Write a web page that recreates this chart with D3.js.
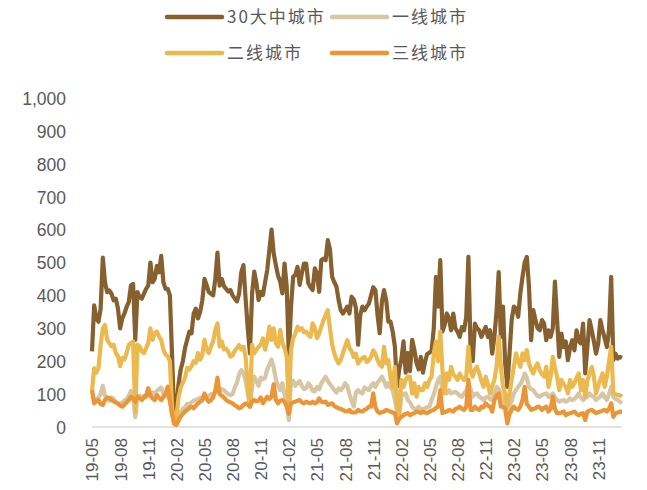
<!DOCTYPE html>
<html>
<head>
<meta charset="utf-8">
<script src="https://cdn.jsdelivr.net/npm/d3@7/dist/d3.min.js"></script>
<style>
  html, body { margin: 0; padding: 0; background: #fff; }
  svg { display: block; }
</style>
</head>
<body>
<svg id="chart" width="647" height="490"></svg>
<script>
// Weekly transaction series (one value per week, starting 2019-05)
const seriesNames = ["30大中城市", "一线城市", "二线城市", "三线城市"];
const seriesColors = ["#86602F", "#D6C6A4", "#ECB94F", "#EB9537"];

const city30 = [
  230,370,330,320,360,515,440,410,415,405,385,390,360,300,330,345,365,380,430,435,
  265,410,395,390,405,420,430,500,440,450,490,470,520,440,420,420,400,220,30,60,
  130,175,200,240,265,290,285,345,360,330,350,385,450,430,410,405,400,450,530,430,
  450,428,420,412,416,400,390,382,405,470,492,390,300,224,405,472,437,386,411,401,
  440,477,538,600,527,492,460,442,406,497,427,214,366,457,462,487,432,467,497,497,
  437,425,416,482,467,411,507,512,507,568,540,457,440,427,386,355,345,355,366,345,
  396,388,362,250,340,366,355,366,375,400,425,416,340,285,380,416,385,320,320,290,
  245,122,175,205,260,165,225,170,265,235,195,175,213,165,200,222,226,232,300,456,
  366,507,290,310,345,330,294,345,300,290,274,304,294,335,517,233,200,314,300,294,
  274,290,304,274,294,223,274,350,471,274,366,193,122,223,325,366,360,335,406,456,
  500,517,427,264,355,325,300,294,325,314,264,294,274,300,442,325,213,284,243,260,
  203,243,264,233,294,260,254,314,163,243,325,294,260,223,254,325,294,270,243,294,
  456,203,223,208,213,210
];

const city1 = [
  95,85,80,90,100,125,95,85,80,90,85,75,70,70,75,80,85,95,110,95,
  30,90,95,90,95,90,100,95,105,100,110,115,120,100,95,90,85,40,10,15,
  30,45,55,60,70,70,75,80,82,85,88,90,90,92,95,100,100,105,110,110,
  115,112,105,100,97,100,120,135,160,173,165,140,102,62,122,153,140,125,150,145,
  150,175,190,205,180,145,125,112,133,100,70,21,140,140,125,133,140,125,115,118,
  133,125,110,108,122,115,133,143,153,140,130,122,112,105,117,112,120,133,125,100,
  80,62,105,112,105,102,120,115,112,125,133,122,135,143,153,140,122,133,120,112,
  82,50,31,92,100,102,82,75,62,55,52,62,52,55,57,60,62,82,100,122,
  143,153,112,105,102,112,102,105,107,102,95,92,102,110,133,115,92,100,102,92,
  88,82,90,92,85,82,102,122,115,102,82,70,42,62,80,102,112,122,130,143,
  163,150,122,115,112,102,95,92,97,100,102,92,95,102,90,82,77,80,82,77,
  80,87,82,85,92,102,90,82,88,92,102,95,92,82,88,92,102,92,82,100,
  122,92,85,82,77,72
];

const city2 = [
  110,178,165,180,250,300,310,265,255,245,250,225,215,185,210,205,225,250,255,260,
  45,250,245,230,225,240,255,300,265,285,290,275,265,235,220,215,200,60,12,30,
  90,120,135,150,180,175,185,200,195,225,205,220,265,235,225,245,260,295,315,245,
  260,236,238,229,214,218,232,240,249,236,244,213,130,62,250,224,235,244,250,269,
  235,262,305,265,300,255,244,295,255,240,213,62,234,270,284,305,295,300,288,290,
  280,274,315,300,270,284,305,325,340,355,300,250,224,205,193,205,225,245,264,240,
  230,213,223,193,203,210,213,198,203,213,233,223,203,190,183,244,193,203,150,122,
  183,60,41,143,122,143,153,153,102,133,92,122,112,112,133,122,143,153,224,260,
  200,290,173,102,163,143,183,160,153,143,163,150,143,153,244,170,153,175,183,163,
  140,122,153,130,102,125,143,183,274,183,122,102,62,100,143,183,224,200,183,224,
  203,234,193,175,163,183,193,172,160,153,183,122,153,213,180,153,112,143,130,122,
  102,143,122,133,150,163,112,143,92,140,163,183,153,102,125,143,163,122,153,200,
  244,102,100,97,97,92
];

const city3 = [
  112,72,78,82,70,67,82,90,88,82,78,75,72,65,62,68,75,82,92,85,
  77,92,88,82,90,95,118,95,87,82,97,88,82,92,100,123,80,40,10,6,
  20,32,40,47,52,58,62,57,65,72,77,82,102,85,77,82,90,110,150,100,
  95,90,82,78,75,72,66,62,57,60,67,72,68,62,77,82,78,80,90,72,
  82,92,85,92,130,82,72,80,82,77,62,40,72,75,77,80,82,75,72,77,
  74,72,77,72,75,87,77,75,77,67,70,72,64,60,57,55,52,48,47,52,
  44,44,45,52,48,47,52,55,62,62,102,60,47,42,45,47,52,50,47,44,
  42,11,25,31,36,40,42,36,40,42,47,45,42,47,44,42,47,50,52,58,
  62,112,42,45,47,52,50,47,55,57,62,55,52,62,143,52,52,62,55,52,
  62,60,72,65,62,47,82,95,102,62,62,55,11,40,52,62,55,52,62,82,
  122,70,62,52,55,57,62,60,52,58,62,47,55,92,55,42,42,44,47,36,
  40,42,44,47,40,36,40,42,21,47,50,52,47,42,45,47,50,52,47,55,
  72,31,42,44,47,47
];

const seriesValues = [city30, city1, city2, city3];

// Axis labels: one every 13 weeks
const yTicks = [0, 100, 200, 300, 400, 500, 600, 700, 800, 900, 1000];
const xTickLabels = ["19-05","19-08","19-11","20-02","20-05","20-08","20-11","21-02","21-05",
  "21-08","21-11","22-02","22-05","22-08","22-11","23-02","23-05","23-08","23-11"];
const xTickStep = 13;

const svg = d3.select("#chart");
const textColor = "#595959";
const numFont = "'Liberation Sans', Arial, sans-serif";
const cjkFont = "'Noto Sans CJK SC', 'Liberation Sans', sans-serif";

const x = d3.scaleLinear().domain([0, city30.length - 1]).range([92, 622]);
const y = d3.scaleLinear().domain([0, 1000]).range([427, 98]);

// Y axis labels (no axis line, no ticks)
const yAxis = d3.axisLeft(y).tickValues(yTicks).tickSize(0).tickPadding(0)
  .tickFormat(d3.format(","));
const yG = svg.append("g").attr("transform", "translate(66,0)").call(yAxis);
yG.select(".domain").remove();
yG.selectAll("text")
  .attr("fill", textColor)
  .style("font-family", numFont)
  .style("font-size", "17.5px")
  .attr("dy", "0.36em");

// Baseline at zero
svg.append("line")
  .attr("x1", x(0)).attr("x2", x(city30.length - 1))
  .attr("y1", y(0)).attr("y2", y(0))
  .attr("stroke", "#D9D9D9").attr("stroke-width", 1.5);

// X axis labels, rotated
const xAxis = d3.axisBottom(x)
  .tickValues(xTickLabels.map((_, i) => i * xTickStep))
  .tickSize(0).tickPadding(0)
  .tickFormat((d) => xTickLabels[d / xTickStep]);
const xG = svg.append("g").attr("transform", `translate(0,${y(0)})`).call(xAxis);
xG.select(".domain").remove();
xG.selectAll("text")
  .attr("fill", textColor)
  .style("font-family", numFont)
  .style("font-size", "17px")
  .attr("text-anchor", "end")
  .attr("transform", "translate(0,11) rotate(-90)")
  .attr("x", 0).attr("y", 0)
  .attr("dy", "0.35em");

// Series lines
const lineGen = d3.line()
  .x((d, i) => x(i))
  .y((d) => y(d));

svg.append("g").selectAll("path")
  .data(seriesValues)
  .join("path")
  .attr("d", (d) => lineGen(d))
  .attr("fill", "none")
  .attr("stroke", (d, i) => seriesColors[i])
  .attr("stroke-width", 4.2)
  .attr("stroke-linejoin", "round")
  .attr("stroke-linecap", "butt");

// Legend (two rows, two columns)
const legendPos = [
  { lx: 167, ly: 17 }, { lx: 332, ly: 17 },
  { lx: 167, ly: 53 }, { lx: 332, ly: 53 }
];
const legend = svg.append("g");
seriesNames.forEach((name, i) => {
  const p = legendPos[i];
  legend.append("line")
    .attr("x1", p.lx).attr("x2", p.lx + 55)
    .attr("y1", p.ly).attr("y2", p.ly)
    .attr("stroke", seriesColors[i])
    .attr("stroke-width", 4.5)
    .attr("stroke-linecap", "round");
  legend.append("text")
    .attr("x", p.lx + 60).attr("y", p.ly)
    .attr("dy", "0.36em")
    .attr("fill", textColor)
    .style("font-family", cjkFont)
    .style("font-size", "17px")
    .style("letter-spacing", "2px")
    .text(name);
});
</script>
</body>
</html>
